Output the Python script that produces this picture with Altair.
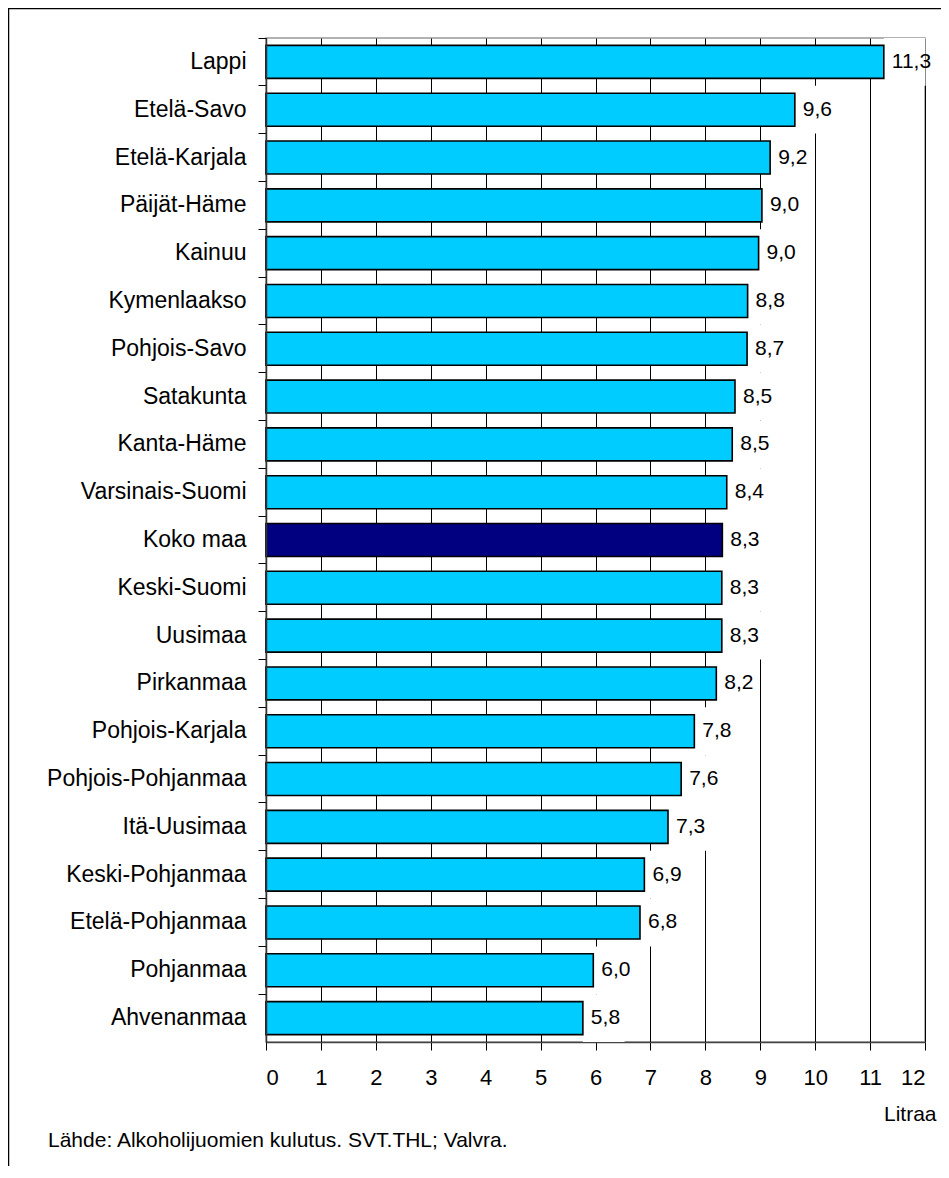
import altair as alt
import pandas as pd

regions = ["Lappi", "Etelä-Savo", "Etelä-Karjala", "Päijät-Häme", "Kainuu",
           "Kymenlaakso", "Pohjois-Savo", "Satakunta", "Kanta-Häme",
           "Varsinais-Suomi", "Koko maa", "Keski-Suomi", "Uusimaa", "Pirkanmaa",
           "Pohjois-Karjala", "Pohjois-Pohjanmaa", "Itä-Uusimaa",
           "Keski-Pohjanmaa", "Etelä-Pohjanmaa", "Pohjanmaa", "Ahvenanmaa"]
values = [11.25, 9.63, 9.18, 9.03, 8.97, 8.77, 8.76, 8.54, 8.49, 8.39, 8.31,
          8.30, 8.30, 8.20, 7.80, 7.56, 7.32, 6.89, 6.81, 5.96, 5.77]
labels = ["11,3", "9,6", "9,2", "9,0", "9,0", "8,8", "8,7", "8,5", "8,5", "8,4",
          "8,3", "8,3", "8,3", "8,2", "7,8", "7,6", "7,3", "6,9", "6,8", "6,0", "5,8"]
highlight = "Koko maa"
x_ticks = list(range(0, 13))
unit_label = "Litraa"
source_text = "Lähde: Alkoholijuomien kulutus. SVT.THL; Valvra."

df = pd.DataFrame({"region": regions, "v": values, "label": labels})
df["kind"] = ["koko" if r == highlight else "alue" for r in regions]

FONT = "Liberation Sans"

base = alt.Chart(df)

y_enc = alt.Y("region:N", sort=regions, title=None,
              scale=alt.Scale(paddingInner=0, paddingOuter=0),
              axis=alt.Axis(bandPosition=0, labelFont=FONT, labelFontSize=23,
                            labelColor="black", labelPadding=12, tickSize=8,
                            tickColor="black", domainColor="#333",
                            domainWidth=1.5, grid=False, labelLimit=400))

x_scale = alt.Scale(domain=[0, 12], nice=False)
x_axis = alt.Axis(values=x_ticks, title=unit_label, format="d",
                  labelFont=FONT, labelFontSize=22, labelColor="black",
                  labelPadding=17, tickSize=8, tickColor="black",
                  domainColor="#444", domainWidth=1.5,
                  grid=True, gridColor="black", gridWidth=1, gridOpacity=1,
                  titleFont=FONT, titleFontSize=21, titleFontWeight="normal",
                  titleColor="black", titleAnchor="end", titleAlign="right",
                  titleX=670, titleY=72, titleBaseline="middle")

boxes = base.transform_calculate(x2="datum.v + 0.76").mark_rect(
    color="white").encode(
    x=alt.X("v:Q", scale=x_scale, axis=x_axis),
    x2="x2:Q",
    y=y_enc,
)

bars = base.mark_bar(height={"band": 0.69}, stroke="black",
                     strokeWidth=1.6).encode(
    x=alt.X("v:Q"),
    y=alt.Y("region:N", sort=regions),
    color=alt.Color("kind:N",
                    scale=alt.Scale(domain=["alue", "koko"],
                                    range=["#00CCFF", "#000080"]),
                    legend=None),
)

texts = base.mark_text(align="left", baseline="middle", dx=8, font=FONT,
                       fontSize=21, color="black").encode(
    x=alt.X("v:Q"),
    y=alt.Y("region:N", sort=regions),
    text="label:N",
)

src = alt.Chart(pd.DataFrame({"t": [source_text]})).mark_text(
    align="left", baseline="middle", font=FONT, fontSize=21,
    color="black").encode(
    x=alt.value(-218), y=alt.value(1103), text="t:N")

frame = alt.Chart(pd.DataFrame({"f": [1]})).mark_rect(
    filled=False, stroke="black", strokeWidth=1.5).encode(
    x=alt.value(-257.5), x2=alt.value(800),
    y=alt.value(-29.5), y2=alt.value(1400))

chart = alt.layer(boxes, bars, texts, src, frame).properties(
    width=659, height=1004,
    autosize=alt.AutoSizeParams(type="none"),
    padding={"left": 258, "top": 30, "right": 16, "bottom": 124},
    background="white",
).configure_view(stroke="#999", strokeWidth=1.5)

chart.save("out.html", embed_options={"renderer": "svg", "actions": False})
